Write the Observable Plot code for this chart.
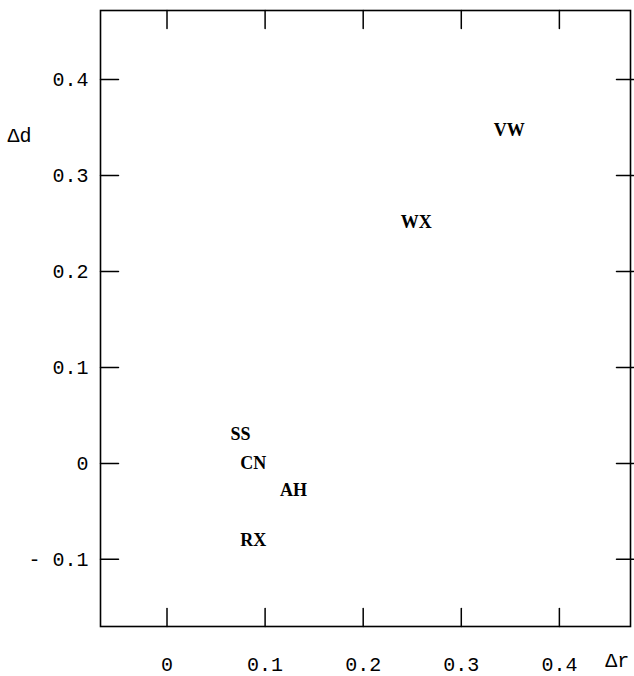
<!DOCTYPE html>
<html>
<head>
<meta charset="utf-8">
<script src="https://cdn.jsdelivr.net/npm/d3@7"></script>
<script src="https://cdn.jsdelivr.net/npm/@observablehq/plot@0.6"></script>
<style>
  html, body { margin: 0; padding: 0; background: #fff; }
</style>
</head>
<body>
<div id="chart"></div>
<script>
// Data
const labels = ["VW", "WX", "SS", "CN", "AH", "RX"];
const deltaR = [0.349, 0.254, 0.075, 0.088, 0.129, 0.088];
const deltaD = [0.347, 0.251, 0.030, 0.000, -0.028, -0.080];

const xTicks = [0, 0.1, 0.2, 0.3, 0.4];
const xTickLabels = ["0", "0.1", "0.2", "0.3", "0.4"];
const yTicks = [-0.1, 0, 0.1, 0.2, 0.3, 0.4];
const yTickLabels = ["- 0.1", "0", "0.1", "0.2", "0.3", "0.4"];

const xTitle = "Δr";
const yTitle = "Δd";

const points = labels.map((l, i) => ({label: l, x: deltaR[i], y: deltaD[i]}));
const fmtX = (d) => xTickLabels[xTicks.indexOf(d)];
const fmtY = (d) => yTickLabels[yTicks.indexOf(d)];

const mono = "'Liberation Mono', 'DejaVu Sans Mono', monospace";
const serif = "'Liberation Serif', 'DejaVu Serif', serif";

// straight-line tick shape for vector marks
const line = {draw(context, l) { context.moveTo(0, 0); context.lineTo(0, -l); }};
const tickStyle = {shape: line, anchor: "start", stroke: "#000", strokeWidth: 1.5};

const chart = Plot.plot({
  width: 634,
  height: 676,
  marginLeft: 100,
  marginRight: 4,
  marginTop: 10,
  marginBottom: 50,
  style: {background: "#fff", color: "#000"},
  x: {domain: [-0.0678, 0.4725]},
  y: {domain: [-0.170, 0.472]},
  marks: [
    Plot.frame({stroke: "#000", strokeWidth: 1.6}),
    // inward ticks
    Plot.vector(xTicks, {x: (d) => d, frameAnchor: "bottom", length: 18, rotate: 0, ...tickStyle}),
    Plot.vector(xTicks, {x: (d) => d, frameAnchor: "top", length: 18, rotate: 180, ...tickStyle}),
    Plot.vector(yTicks, {y: (d) => d, frameAnchor: "left", length: 18, rotate: 90, ...tickStyle}),
    Plot.vector(yTicks, {y: (d) => d, frameAnchor: "right", dx: 3, length: 17, rotate: -90, ...tickStyle}),
    // tick labels
    Plot.axisX({anchor: "bottom", ticks: xTicks, tickSize: 0, tickPadding: 30, tickFormat: fmtX,
      fontSize: 20, fontFamily: mono, label: null}),
    Plot.axisY({anchor: "left", ticks: yTicks, tickSize: 0, tickPadding: 12, tickFormat: fmtY,
      fontSize: 20, fontFamily: mono, label: null}),
    // axis titles
    Plot.text([yTitle], {text: (d) => d, y: 0.342, frameAnchor: "left", dx: -93, textAnchor: "start",
      fontSize: 20, fontFamily: mono}),
    Plot.text([xTitle], {text: (d) => d, x: 0.459, frameAnchor: "bottom", dy: 40,
      fontSize: 20, fontFamily: mono}),
    // point labels
    Plot.text(points, {x: "x", y: "y", text: "label", fontSize: 18, fontFamily: serif,
      fontWeight: "bold", fill: "#000"})
  ]
});
document.getElementById("chart").appendChild(chart);
</script>
</body>
</html>
